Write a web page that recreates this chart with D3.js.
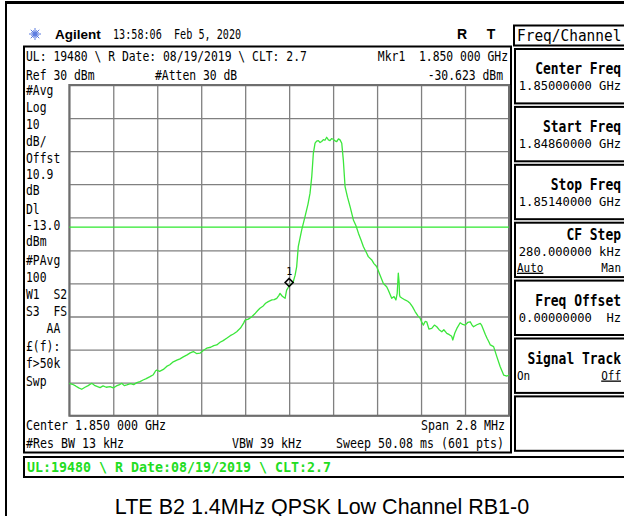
<!DOCTYPE html>
<html>
<head>
<meta charset="utf-8">
<script src="https://cdn.jsdelivr.net/npm/d3@7"></script>
<style>
  html, body { margin: 0; padding: 0; background: #fff; }
  svg text { white-space: pre; }
</style>
</head>
<body>
<div id="chart"></div>
<script>
// trace: offset from center (kHz) and level (dBm)
const traceKHz = [-1400,-1380,-1360,-1340,-1321,-1300,-1280,-1257,-1240,-1220,-1204,-1185,-1165,-1140,-1120,-1100,-1080,-1066,-1050,-1034,-1010,-990,-970,-950,-930,-910,-886,-865,-850,-843,-825,-801,-780,-760,-738,-715,-695,-674,-650,-630,-610,-590,-568,-545,-525,-500,-480,-461,-440,-420,-398,-375,-355,-334,-310,-290,-281,-260,-238,-215,-200,-186,-165,-150,-133,-110,-95,-79,-65,-58,-45,-35,-26,-16,-8,0,12,26,38,48,58,80,101,120,133,144,154,165,175,186,197,207,218,228,239,250,260,270,281,292,303,314,324,335,345,356,372,388,409,425,441,457,473,494,504,526,540,557,579,600,621,631,653,668,680,688,695,700,703,706,720,738,755,770,785,802,820,834,845,855,866,876,890,908,925,940,955,972,985,1004,1020,1035,1042,1055,1068,1089,1105,1121,1137,1153,1165,1174,1195,1217,1225,1234,1250,1260,1270,1281,1302,1323,1344,1366,1387,1400];
const traceDbm = [-60.2,-60.5,-61.0,-61.6,-62.0,-61.4,-60.9,-60.2,-60.8,-61.2,-61.5,-61.0,-61.4,-61.2,-61.6,-61.0,-60.6,-60.2,-60.9,-60.7,-60.3,-60.6,-60.0,-59.7,-59.2,-58.8,-58.2,-57.6,-56.4,-56.2,-56.6,-56.0,-55.1,-54.6,-53.7,-53.2,-52.8,-52.2,-51.6,-51.0,-50.6,-51.2,-51.1,-50.2,-49.6,-49.3,-48.8,-48.6,-47.8,-47.3,-46.6,-45.8,-45.3,-44.6,-43.5,-42.0,-41.1,-40.8,-40.1,-39.0,-38.2,-37.5,-36.8,-36.0,-35.5,-35.0,-34.9,-34.5,-33.6,-33.0,-33.8,-34.2,-34.5,-32.0,-31.4,-30.6,-30.3,-29.5,-27.5,-24.9,-18.9,-13.8,-9.8,-6.0,-2.7,2.3,9.3,12.4,13.0,13.2,12.6,12.9,13.5,13.3,14.2,13.4,13.2,13.8,13.6,13.1,12.9,13.7,13.4,12.4,7.3,-0.7,-4.0,-6.8,-10.8,-12.5,-14.8,-16.8,-18.9,-20.9,-21.9,-22.9,-24.0,-24.9,-27.5,-30.0,-31.0,-32.0,-34.5,-34.0,-35.0,-33.0,-26.9,-29.5,-33.5,-34.0,-34.5,-35.0,-35.4,-36.0,-37.0,-38.5,-39.8,-40.5,-41.8,-42.6,-41.5,-41.6,-43.8,-43.6,-42.6,-43.1,-44.0,-44.6,-44.0,-45.1,-45.5,-46.0,-47.1,-45.0,-43.6,-41.9,-42.4,-42.6,-41.8,-41.6,-42.6,-43.1,-42.5,-42.1,-42.6,-43.6,-45.5,-46.6,-47.5,-48.6,-49.1,-52.2,-55.2,-57.7,-58.0,-57.7];

const spanKHz = [-1400, 1400];
const refLevel = [-70, 30];
const xGridKHz = d3.range(-1400, 1401, 280);
const yGridDbm = d3.range(-70, 31, 10);
const displayLine = -13.0;
const marker = { khz: 0, dbm: -30.623, label: "1" };

const headerTime = "13:58:06  Feb 5, 2020";
const infoLine = "UL: 19480 \\ R Date: 08/19/2019 \\ CLT: 2.7";
const refText = "Ref 30 dBm";
const attenText = "#Atten 30 dB";
const mkrFreq = "Mkr1  1.850 000 GHz";
const mkrLevel = "-30.623 dBm";
const leftLabels = ["#Avg","Log","10","dB/","Offst","10.9","dB","Dl","-13.0","dBm","#PAvg","100","W1  S2","S3  FS","   AA","£(f):","f>50k","Swp"];
const centerText = "Center 1.850 000 GHz";
const spanText = "Span 2.8 MHz";
const rbwText = "#Res BW 13 kHz";
const vbwText = "VBW 39 kHz";
const sweepText = "Sweep 50.08 ms (601 pts)";
const statusText = "UL:19480 \\ R Date:08/19/2019 \\ CLT:2.7";
const menuTitle = "Freq/Channel";
const softkeys = [
  { title: "Center Freq", value: "1.85000000 GHz" },
  { title: "Start Freq", value: "1.84860000 GHz" },
  { title: "Stop Freq", value: "1.85140000 GHz" },
  { title: "CF Step", value: "280.000000 kHz", left: "Auto", right: "Man" },
  { title: "Freq Offset", value: "0.00000000  Hz" },
  { title: "Signal Track", left: "On", right: "Off" },
  { title: "" }
];
const caption = "LTE B2 1.4MHz QPSK Low Channel RB1-0";

const W = 624, H = 516;
const MONO = "'DejaVu Sans Mono', 'Liberation Mono', monospace";
const SANS = "'Liberation Sans', Arial, sans-serif";

const svg = d3.select("#chart").append("svg")
  .attr("width", W)
  .attr("height", H);

function label(x, y, s, opt = {}) {
  const { cw = 6.85, size = 14, weight = "normal", anchor = "start", fill = "#000", family = MONO } = opt;
  const t = svg.append("text")
    .attr("x", x)
    .attr("y", y)
    .attr("text-anchor", anchor)
    .attr("font-family", family)
    .attr("font-size", size)
    .attr("font-weight", weight)
    .attr("fill", fill)
    .text(s);
  if (cw) {
    t.attr("textLength", s.length * cw).attr("lengthAdjust", "spacingAndGlyphs");
  }
  return t;
}

// outer frame
svg.append("line").attr("x1", 5).attr("x2", W).attr("y1", 2.5).attr("y2", 2.5)
  .attr("stroke", "#000").attr("stroke-width", 3);
svg.append("line").attr("x1", 6).attr("x2", 6).attr("y1", 1).attr("y2", H)
  .attr("stroke", "#000").attr("stroke-width", 2);

// header
const logo = svg.append("g").attr("transform", "translate(35,34)");
d3.range(0, 180, 22.5).forEach(a => {
  const r = a % 45 === 0 ? 6 : 4;
  const rad = a * Math.PI / 180;
  logo.append("line")
    .attr("x1", -r * Math.cos(rad)).attr("y1", -r * Math.sin(rad))
    .attr("x2", r * Math.cos(rad)).attr("y2", r * Math.sin(rad))
    .attr("stroke", "#5a7be0").attr("stroke-width", 1);
});
label(55, 39, "Agilent", { cw: 0, size: 13.5, weight: "bold", family: SANS });
label(113, 39, headerTime, { cw: 6.1 });
label(462, 39, "R", { cw: 0, size: 14, weight: "bold", family: SANS, anchor: "middle" });
label(491, 39, "T", { cw: 0, size: 14, weight: "bold", family: SANS, anchor: "middle" });

// main screen box
svg.append("rect").attr("x", 24).attr("y", 46.5).attr("width", 487).attr("height", 406)
  .attr("fill", "none").attr("stroke", "#000").attr("stroke-width", 2);

label(26, 61, infoLine);
label(26, 80, refText);
label(155, 80, attenText);
label(508, 61, mkrFreq, { anchor: "end" });
label(503, 80, mkrLevel, { anchor: "end" });

const leftY = [90, 107, 124, 141, 158, 174, 190, 209, 225, 241, 260, 277, 294, 311, 328, 346, 363, 381];
leftLabels.forEach((s, i) => {
  label(26, leftY[i] + 5, s, { cw: 6.85 });
});

// plot area
const x = d3.scaleLinear().domain(spanKHz).range([69.3, 509]);
const y = d3.scaleLinear().domain(refLevel).range([415.7, 85]);
const plotW = x.range()[1] - x.range()[0];
const plotH = y.range()[0] - y.range()[1];

const grid = svg.append("g");
grid.append("g")
  .attr("transform", `translate(0,${y.range()[0]})`)
  .call(d3.axisBottom(x).tickValues(xGridKHz).tickSize(-plotH).tickFormat(""))
  .call(g => g.select(".domain").remove())
  .selectAll("line").attr("stroke", "#808080").attr("stroke-width", 1.3);
grid.append("g")
  .attr("transform", `translate(${x.range()[0]},0)`)
  .call(d3.axisLeft(y).tickValues(yGridDbm).tickSize(-plotW).tickFormat(""))
  .call(g => g.select(".domain").remove())
  .selectAll("line").attr("stroke", "#808080").attr("stroke-width", 1.3);
svg.append("rect")
  .attr("x", x.range()[0]).attr("y", y.range()[1])
  .attr("width", plotW).attr("height", plotH)
  .attr("fill", "none").attr("stroke", "#6e6e6e").attr("stroke-width", 2);

// display line
svg.append("line")
  .attr("x1", x.range()[0]).attr("x2", x.range()[1])
  .attr("y1", y(displayLine)).attr("y2", y(displayLine))
  .attr("stroke", "#2ee82e").attr("stroke-width", 1.3);

// trace
const traceData = traceKHz.map((k, i) => ({ k, v: traceDbm[i] }));
svg.append("path")
  .datum(traceData)
  .attr("fill", "none")
  .attr("stroke", "#3be63b")
  .attr("stroke-width", 1.3)
  .attr("stroke-linejoin", "round")
  .attr("d", d3.line().x(d => x(d.k)).y(d => y(d.v)));

// marker
const mx = x(marker.khz), my = y(marker.dbm) - 3;
svg.append("path")
  .attr("d", `M${mx},${my - 4}L${mx + 4},${my}L${mx},${my + 4}L${mx - 4},${my}Z`)
  .attr("fill", "none").attr("stroke", "#000").attr("stroke-width", 1.6);
label(mx, my - 7, marker.label, { cw: 0, size: 10, anchor: "middle" });

// bottom annotations
label(26, 430, centerText, { cw: 7.0 });
label(505, 430, spanText, { cw: 7.0, anchor: "end" });
label(26, 448, rbwText, { cw: 7.0 });
label(232, 448, vbwText, { cw: 7.0 });
label(504, 448, sweepText, { cw: 7.0, anchor: "end" });

// status bar
svg.append("rect").attr("x", 24).attr("y", 457).attr("width", W - 23).attr("height", 20)
  .attr("fill", "none").attr("stroke", "#000").attr("stroke-width", 2);
label(27, 472, statusText, { cw: 8.0, size: 14.5, weight: "bold", fill: "#22dd22" });

// softkey menu
svg.append("rect").attr("x", 514).attr("y", 25.5).attr("width", 115).attr("height", 20)
  .attr("fill", "none").attr("stroke", "#000").attr("stroke-width", 2);
label(517, 41, menuTitle, { cw: 8.7, size: 15 });

const keyH = 57.9;
softkeys.forEach((k, i) => {
  const top = 48 + i * keyH;
  svg.append("rect").attr("x", 515).attr("y", top + 1)
    .attr("width", 115).attr("height", keyH - 3.5)
    .attr("fill", "none").attr("stroke", "#000").attr("stroke-width", 2);
  const hasBoth = k.value && k.left;
  const titleY = hasBoth ? top + 18 : top + 26;
  if (k.title) label(621, titleY, k.title, { cw: 7.8, size: 15, weight: "bold", anchor: "end" });
  if (k.value) label(621, titleY + 16, k.value, { cw: 7.3, size: 13, anchor: "end" });
  if (k.left) {
    const ly = hasBoth ? titleY + 32 : titleY + 16;
    const lt = label(517, ly, k.left, { cw: 6.6, size: 13 });
    const rt = label(621, ly, k.right, { cw: 6.6, size: 13, anchor: "end" });
    (i === 3 ? lt : rt).attr("text-decoration", "underline");
  }
});

// caption
label(322, 514, caption, { cw: 0, size: 21.5, family: SANS, anchor: "middle" });
</script>
</body>
</html>
